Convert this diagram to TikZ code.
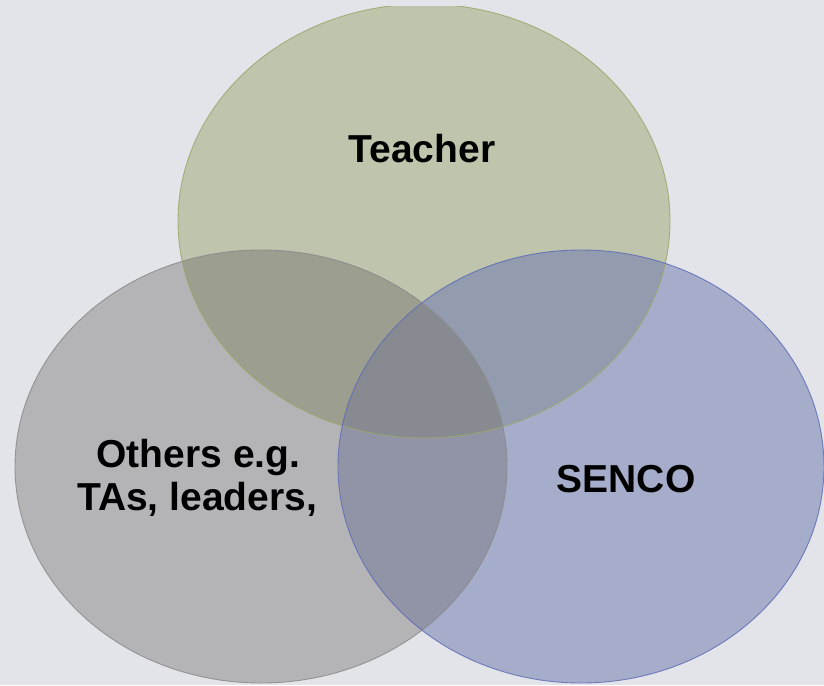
\documentclass[tikz,border=0pt]{standalone}
\usepackage{fontspec}
\setmainfont{Liberation Sans}
\definecolor{bg}{HTML}{E3E4EA}
\definecolor{cT}{HTML}{BFC4AD}
\definecolor{cO}{HTML}{B4B4B6}
\definecolor{cS}{HTML}{A6ADCB}
\definecolor{cTO}{HTML}{9C9E8F}
\definecolor{cTS}{HTML}{929CAE}
\definecolor{cOS}{HTML}{9094A6}
\definecolor{cTOS}{HTML}{878A90}
\definecolor{lT}{HTML}{9DA66B}
\definecolor{lO}{HTML}{8A8A8C}
\definecolor{lS}{HTML}{5F6DB5}
\newcommand{\pathT}{(424,221) ellipse [x radius=246, y radius=217]}
\newcommand{\pathO}{(261,466.5) ellipse [x radius=246, y radius=216.5]}
\newcommand{\pathS}{(581,466.5) ellipse [x radius=243, y radius=216.5]}
\tikzset{
  lbl/.style={font=\fontsize{39}{44}\selectfont\bfseries, text=black, align=center, inner sep=0pt},
  edge/.style={line width=0.9pt, draw opacity=0.85}
}
\begin{document}
\begin{tikzpicture}[x=1pt,y=-1pt]
\useasboundingbox (0,0) rectangle (824,685);
\fill[bg] (0,0) rectangle (824,685);
\begin{scope}
  \clip (0,7) rectangle (824,685);
  \fill[cT] \pathT;
  \fill[cO] \pathO;
  \fill[cS] \pathS;
  \begin{scope}\clip \pathT; \fill[cTO] \pathO; \end{scope}
  \begin{scope}\clip \pathT; \fill[cTS] \pathS; \end{scope}
  \begin{scope}\clip \pathO; \fill[cOS] \pathS; \end{scope}
  \begin{scope}\clip \pathT; \clip \pathO; \fill[cTOS] \pathS; \end{scope}
  \draw[edge, lT] \pathT;
  \draw[edge, lO] \pathO;
  \draw[edge, lS] \pathS;
\end{scope}
\node[lbl, anchor=base] (teacher) at (422,162.5) {Teacher};
\node[lbl, anchor=base] (senco) at (626,492) {SENCO};
\node[lbl, anchor=base] (others1) at (198.5,467) {Others e.g.};
\node[lbl, anchor=base] (others2) at (197,510) {TAs, leaders,};
\end{tikzpicture}
\end{document}
